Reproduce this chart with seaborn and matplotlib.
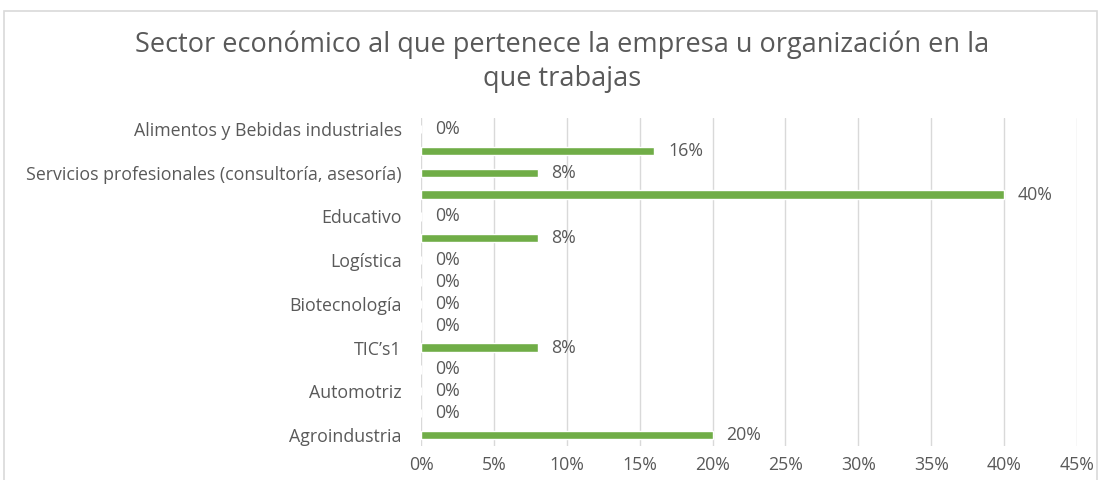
import matplotlib
matplotlib.use("Agg")
import matplotlib.pyplot as plt
import seaborn as sns
import pandas as pd
from matplotlib.patches import Rectangle
from matplotlib.ticker import FuncFormatter

sns.set_theme(style="white")
plt.rcParams['font.family'] = ['Open Sans', 'DejaVu Sans']

# Data (top to bottom). Every other category name is not shown in the original chart.
categories = [
    "Alimentos y Bebidas industriales", "c2",
    "Servicios profesionales (consultoría, asesoría)", "c4",
    "Educativo", "c6",
    "Logística", "c8",
    "Biotecnología", "c10",
    "TIC’s1", "c12",
    "Automotriz", "c14",
    "Agroindustria",
]
shown_labels = [
    "Alimentos y Bebidas industriales", "",
    "Servicios profesionales (consultoría, asesoría)", "",
    "Educativo", "",
    "Logística", "",
    "Biotecnología", "",
    "TIC’s1", "",
    "Automotriz", "",
    "Agroindustria",
]
values = [0.00, 0.16, 0.08, 0.40, 0.00, 0.08, 0.00, 0.00, 0.00, 0.00, 0.08, 0.00, 0.00, 0.00, 0.20]
x_ticks = [0, 0.05, 0.10, 0.15, 0.20, 0.25, 0.30, 0.35, 0.40, 0.45]

title = "Sector económico al que pertenece la empresa u organización en la\nque trabajas"
GREEN = "#70AD47"
GREY = "#595959"
GRID = "#D9D9D9"

df = pd.DataFrame({"cat": categories, "val": values})

fig = plt.figure(figsize=(11.01, 4.80), dpi=100)
ax = fig.add_axes([421/1101, 1 - 446/480, (1077 - 421)/1101, (446 - 118)/480])

sns.barplot(data=df, x="val", y="cat", order=categories, color=GREEN,
            width=0.38, saturation=1, ax=ax)

ax.set_xlim(0, 0.45)
ax.set_xticks(x_ticks)
ax.xaxis.set_major_formatter(FuncFormatter(lambda v, p: f"{v*100:.0f}%"))
ax.set_yticks(range(len(categories)))
ax.set_yticklabels(shown_labels)
ax.set_xlabel("")
ax.set_ylabel("")
ax.grid(axis="x", color=GRID, linewidth=1)
ax.set_axisbelow(True)
for s in ax.spines.values():
    s.set_visible(False)
ax.tick_params(axis="both", length=0, labelsize=12.8, colors=GREY)
ax.tick_params(axis="y", pad=14)
ax.tick_params(axis="x", pad=7)

for c in ax.containers:
    ax.bar_label(c, labels=[f"{v*100:.0f}%" for v in values], padding=10,
                 color=GREY, fontsize=12.8)

fig.text(0.511, 1 - 62/480, title, ha="center", va="center", fontsize=19.5,
         color=GREY, linespacing=1.3)

fig.patches.append(Rectangle((4/1101, -0.05), (1097 - 4)/1101, 1.05 - 11/480,
                             transform=fig.transFigure, fill=False,
                             edgecolor="#D9D9D9", linewidth=1.2))

fig.savefig("out.png", dpi=100)
